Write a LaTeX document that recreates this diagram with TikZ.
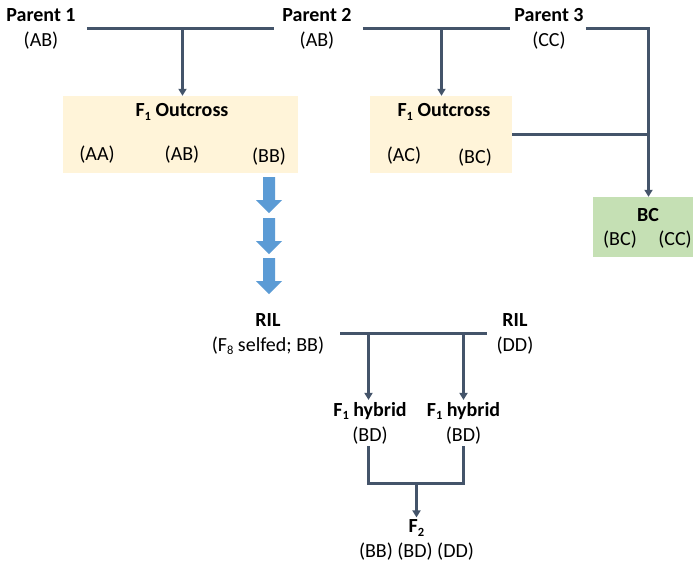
\documentclass[tikz,border=0pt]{standalone}
\usepackage{fontspec}
\setmainfont{Carlito}
\usetikzlibrary{arrows.meta}
\definecolor{crossLine}{HTML}{44546A}
\definecolor{crossYellow}{HTML}{FFF4D9}
\definecolor{crossGreen}{HTML}{C5E0B4}
\definecolor{crossBlue}{HTML}{5B9BD5}
\newcommand{\lowidx}[1]{\raisebox{-0.35ex}{\fontsize{12.5}{12.5}\selectfont #1}}

\begin{document}
\begin{tikzpicture}[x=1pt, y=-1pt,
    every node/.style={font=\fontsize{20}{25}\selectfont, align=center, inner sep=2pt},
    link/.style={draw=crossLine, line width=2.8pt},
    arr/.style={link, -{Triangle[width=8pt,length=7pt]}},
    crossbox/.style={fill=crossYellow, minimum width=#1, minimum height=77pt, inner sep=0pt}]
            \useasboundingbox (0,0) rectangle (693,566);
            % parents
            \node (p1) at (41,28.5) {\textbf{Parent 1}\\(AB)};
            \node (p2) at (317,28.5) {\textbf{Parent 2}\\(AB)};
            \node (p3) at (549,28.5) {\textbf{Parent 3}\\(CC)};
            % outcross boxes
            \node[crossbox=235pt] (out1) at (180.5,134.5) {};
            \node[crossbox=142pt] (out2) at (441,134.5) {};
            \node[fill=crossGreen, minimum width=100pt, minimum height=60pt, inner sep=0pt] (bc) at (643,227) {};
            \node (t1) at (182,112) {\textbf{F\lowidx{1} Outcross}};
            \node (aa) at (97,155) {(AA)};
            \node (ab) at (182,155) {(AB)};
            \node (bb) at (269,157) {(BB)};
            \node (t2) at (444,112) {\textbf{F\lowidx{1} Outcross}};
            \node (ac) at (404,156) {(AC)};
            \node (bc2) at (475,158) {(BC)};
            \node (tbc) at (648,215) {\textbf{BC}};
            \node (bc3) at (620,240) {(BC)};
            \node (cc) at (675,240) {(CC)};
            \coordinate (j1) at (182.5,28.5);
            \coordinate (j2) at (441.5,28.5);
            \coordinate (c3) at (648.5,28.5);
            \draw[link, shorten <=9pt, shorten >=6pt] (p1) -- (p2);
            \draw[arr] (j1) -- (j1 |- out1.north);
            \draw[link, shorten <=9pt, shorten >=2pt] (p2) -- (p3);
            \draw[arr] (j2) -- (j2 |- out2.north);
            \draw[arr] (p3) -- (c3) -- (c3 |- bc.north);
            \draw[link] (out2.east) -- (out2.east -| c3);
            % selfing arrows
            \foreach \y in {177,218,258} {
                \fill[crossBlue] (263,\y) -- (275,\y) -- (275,\y+23) -- (282,\y+23)
                    -- (269,\y+36) -- (256,\y+23) -- (263,\y+23) -- cycle;
            }
            % RIL cross
            \node (ril1) at (268,334) {\textbf{RIL}\\(F\lowidx{8} selfed; BB)};
            \node (ril2) at (515,334) {\textbf{RIL}\\(DD)};
            \node (h1) at (370,423) {\textbf{F\lowidx{1} hybrid}\\(BD)};
            \node (h2) at (463.5,423) {\textbf{F\lowidx{1} hybrid}\\(BD)};
            \node (f2) at (416.5,540) {\textbf{F\lowidx{2}}\\(BB) (BD) (DD)};
            \coordinate (k1) at (368.5,333.5);
            \coordinate (k2) at (463.5,333.5);
            \coordinate (m) at (416.5,483.5);
            \draw[link, shorten <=14pt, shorten >=7pt] (ril1.east |- k1) -- (ril2.west |- k1);
            \draw[arr] (k1) -- (k1 |- h1.north);
            \draw[arr] (k2) -- (k2 |- h2.north);
            \draw[link] (h1.south -| k1) |- (m) -| (h2.south);
            \draw[arr] (m) -- (f2.north);
        \end{tikzpicture}
\end{document}
